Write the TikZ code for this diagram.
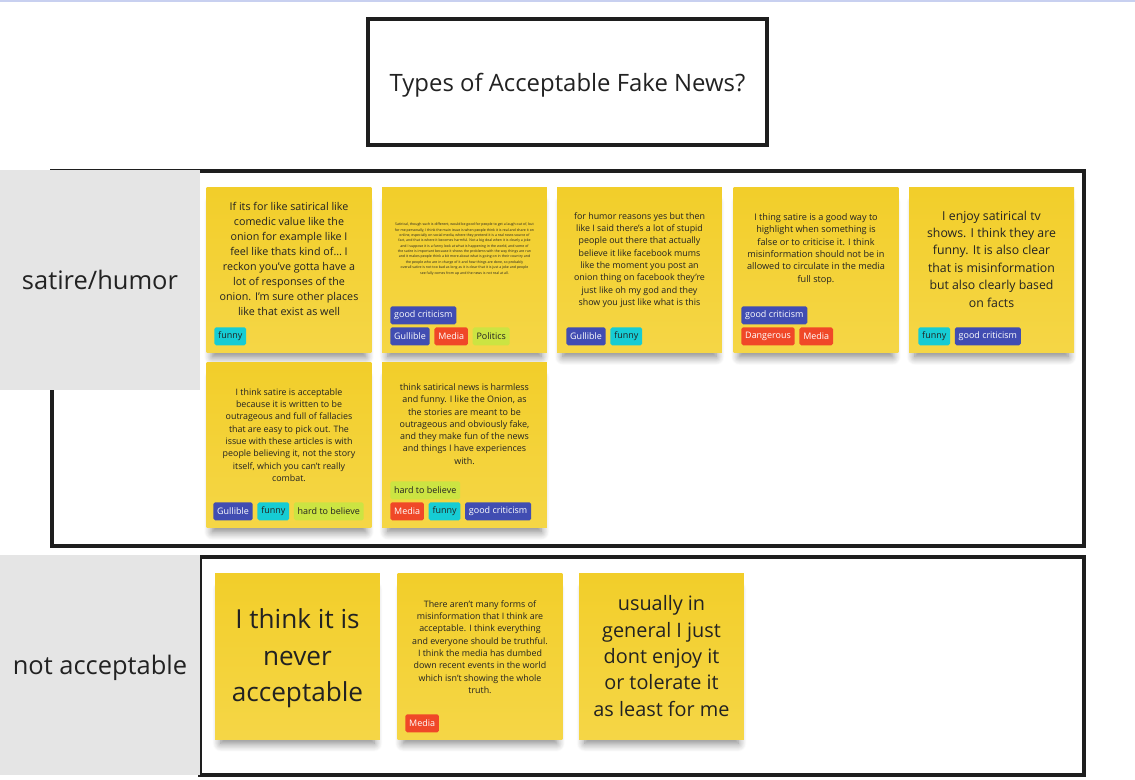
\documentclass[tikz,border=0pt]{standalone}
\usepackage{fontspec}
\setmainfont{Open Sans}
\usepackage{xcolor}
\usetikzlibrary{positioning,shadows.blur}
\definecolor{noteTop}{RGB}{242,206,42}
\definecolor{noteBot}{RGB}{245,214,70}
\definecolor{inkgray}{RGB}{34,34,34}
\definecolor{framegray}{RGB}{30,30,30}
\definecolor{catgray}{RGB}{229,229,229}
\definecolor{topline}{RGB}{200,208,240}
\definecolor{tagIndigo}{RGB}{65,77,178}
\definecolor{tagRed}{RGB}{240,72,40}
\definecolor{tagCyan}{RGB}{22,204,212}
\definecolor{tagLime}{RGB}{204,228,66}

\begin{document}
\begin{tikzpicture}[
  x=0.02cm, y=-0.02cm,
  frame/.style={draw=framegray, line width=1.8pt},
  catbox/.style={fill=catgray, minimum width=4cm, minimum height=4.4cm, inner sep=0pt, text=inkgray, font=\fontsize{14.5pt}{17pt}\selectfont},
  note/.style={rectangle, top color=noteTop, bottom color=noteBot, minimum width=3.3cm, minimum height=3.32cm, inner sep=0pt,
    blur shadow={shadow xshift=0pt, shadow yshift=-6pt, shadow scale=0.93, shadow opacity=50, shadow blur radius=5pt, shadow blur steps=10}},
  notetext/.style={align=center, inner sep=0pt, text=inkgray},
  tag/.style={rounded corners=1pt, minimum height=0.36cm, inner xsep=2.2pt, inner ysep=0pt, font=\fontsize{5.1pt}{6pt}\selectfont},
  funnytag/.style={tag, fill=tagCyan, text=inkgray},
  criticismtag/.style={tag, fill=tagIndigo, text=white},
  gullibletag/.style={tag, fill=tagIndigo, text=white},
  mediatag/.style={tag, fill=tagRed, text=white},
  dangertag/.style={tag, fill=tagRed, text=white},
  limetag/.style={tag, fill=tagLime, text=inkgray}
]
\useasboundingbox (0,0) rectangle (1135,780);
\fill[topline] (0,0) rectangle (1135,2);

% title
\node[frame, minimum width=7.98cm, minimum height=2.52cm, text depth=0pt, text=inkgray, font=\fontsize{13.6pt}{16pt}\selectfont] (title) at (567.5,82) {Types of Acceptable Fake News?};

% group frames and category labels
\draw[frame] (52,171) rectangle (1084,546);
\draw[frame] (200,557) rectangle (1084,775);
\node[catbox] (satire) at (100,280) {satire/humor};
\node[catbox, text depth=0pt] (notacc) at (100,665) {not acceptable};

% satire/humor, first row
\node[note] (n1) at (289,270) {};
\node[note] (n2) at (464.5,270) {};
\node[note] (n3) at (639.5,270) {};
\node[note] (n4) at (816,270) {};
\node[note] (n5) at (991.5,270) {};

\node[notetext, font=\fontsize{6.1pt}{8.5pt}\selectfont] (n1txt) at (289,259) {If its for like satirical like\\comedic value like the\\onion for example like I\\feel like thats kind of\dots\ I\\reckon you've gotta have a\\lot of responses of the\\onion. I'm sure other places\\like that exist as well};
\node[funnytag, anchor=north west] (n1a) at (214,327) {funny};

\node[notetext, font=\fontsize{2.0pt}{3.05pt}\selectfont] (n2txt) at (464.5,249) {Satirical, though such is different, would be good for people to get a laugh out of, but\\for me personally, I think the main issue is when people think it is real and share it on\\online, especially on social media, where they pretend it is a real news source of\\fact, and that is where it becomes harmful. Not a big deal when it is clearly a joke\\and I suppose it is a funny look at what is happening in the world, and some of\\the satire is important because it shows the problems with the way things are run\\and it makes people think a bit more about what is going on in their country and\\the people who are in charge of it and how things are done, so probably\\overall satire is not too bad as long as it is clear that it is just a joke and people\\see fully comes from up and the news is not real at all.};
\node[criticismtag, anchor=north west] (n2a) at (390,306) {good criticism};
\node[gullibletag, anchor=north west] (n2b) at (390,327) {Gullible};
\node[mediatag, right=0.08cm of n2b] (n2c) {Media};
\node[limetag, right=0.08cm of n2c] (n2d) {Politics};

\node[notetext, font=\fontsize{5.05pt}{7pt}\selectfont] (n3txt) at (639.5,260) {for humor reasons yes but then\\like I said there's a lot of stupid\\people out there that actually\\believe it like facebook mums\\like the moment you post an\\onion thing on facebook they're\\just like oh my god and they\\show you just like what is this};
\node[gullibletag, anchor=north west] (n3a) at (566,327) {Gullible};
\node[funnytag, right=0.08cm of n3a] (n3b) {funny};

\node[notetext, font=\fontsize{5.2pt}{7pt}\selectfont] (n4txt) at (816,249) {I thing satire is a good way to\\highlight when something is\\false or to criticise it. I think\\misinformation should not be in\\allowed to circulate in the media\\full stop.};
\node[criticismtag, anchor=north west] (n4a) at (741,306) {good criticism};
\node[dangertag, anchor=north west] (n4b) at (741,327) {Dangerous};
\node[mediatag, right=0.08cm of n4b] (n4c) {Media};

\node[notetext, font=\fontsize{7.0pt}{9.9pt}\selectfont] (n5txt) at (991.5,259) {I enjoy satirical tv\\shows. I think they are\\funny. It is also clear\\that is misinformation\\but also clearly based\\on facts};
\node[funnytag, anchor=north west] (n5a) at (918,327) {funny};
\node[criticismtag, right=0.08cm of n5a] (n5b) {good criticism};

% satire/humor, second row
\node[note] (n6) at (289,445) {};
\node[note] (n7) at (464.5,445) {};

\node[notetext, font=\fontsize{5.05pt}{7pt}\selectfont] (n6txt) at (289,435) {I think satire is acceptable\\because it is written to be\\outrageous and full of fallacies\\that are easy to pick out. The\\issue with these articles is with\\people believing it, not the story\\itself, which you can't really\\combat.};
\node[gullibletag, anchor=north west] (n6a) at (213,502) {Gullible};
\node[funnytag, right=0.08cm of n6a] (n6b) {funny};
\node[limetag, right=0.08cm of n6b] (n6c) {hard to believe};

\node[notetext, font=\fontsize{5.1pt}{7pt}\selectfont] (n7txt) at (464.5,424) {think satirical news is harmless\\and funny. I like the Onion, as\\the stories are meant to be\\outrageous and obviously fake,\\and they make fun of the news\\and things I have experiences\\with.};
\node[limetag, anchor=north west] (n7a) at (390,481) {hard to believe};
\node[mediatag, anchor=north west] (n7b) at (390,502) {Media};
\node[funnytag, right=0.08cm of n7b] (n7c) {funny};
\node[criticismtag, right=0.08cm of n7c] (n7d) {good criticism};

% not acceptable
\node[note] (n8) at (297.5,656.5) {};
\node[note] (n9) at (480,656.5) {};
\node[note] (n10) at (661.5,656.5) {};

\node[notetext, font=\fontsize{14.9pt}{20.7pt}\selectfont] (n8txt) at (297.5,658.5) {I think it is\\never\\acceptable};

\node[notetext, font=\fontsize{5.05pt}{7pt}\selectfont] (n9txt) at (480,647) {There aren't many forms of\\misinformation that I think are\\acceptable. I think everything\\and everyone should be truthful.\\I think the media has dumbed\\down recent events in the world\\which isn't showing the whole\\truth.};
\node[mediatag, anchor=north west] (n9a) at (405,714) {Media};

\node[notetext, font=\fontsize{11.3pt}{15pt}\selectfont] (n10txt) at (661.5,656) {usually in\\general I just\\dont enjoy it\\or tolerate it\\as least for me};

\end{tikzpicture}
\end{document}
